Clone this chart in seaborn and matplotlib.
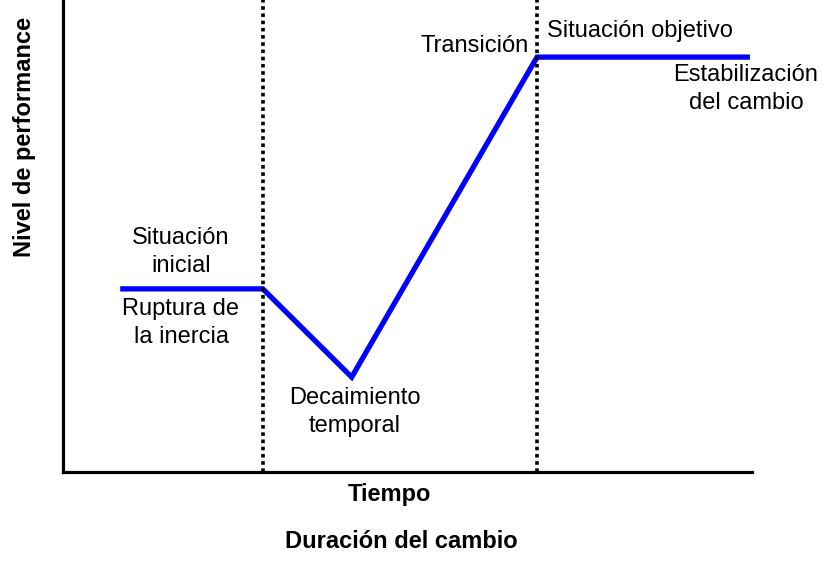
import numpy as np
import pandas as pd
import matplotlib.pyplot as plt
import seaborn as sns

# curve of performance over time (axes units 0-100)
tiempo = [8.3, 29.0, 41.9, 68.8, 99.7]
performance = [38.8, 38.8, 20.1, 87.9, 87.9]
# phase boundaries
limites = [29.0, 68.8]

sns.set_style("white")
plt.rcParams["font.family"] = ["Liberation Sans", "DejaVu Sans"]
plt.rcParams["text.color"] = "black"

W, H = 831, 562
fig = plt.figure(figsize=(W / 100, H / 100), dpi=100)
ax = fig.add_axes([63 / W, (H - 472) / H, (752 - 63) / W, 472 / H])

df = pd.DataFrame({"Tiempo": tiempo, "Nivel": performance})
sns.lineplot(data=df, x="Tiempo", y="Nivel", color="#0000FF", linewidth=3.8,
             sort=False, ax=ax, solid_capstyle="butt", solid_joinstyle="miter")

for xv in limites:
    ax.axvline(xv, color="black", linewidth=2.6, linestyle=(0, (1, 1)))

ax.set_xlim(0, 100)
ax.set_ylim(0, 100)
ax.set_xticks([])
ax.set_yticks([])
ax.set_xlabel("")
ax.set_ylabel("")
for s in ["top", "right"]:
    ax.spines[s].set_visible(False)
for s in ["left", "bottom"]:
    ax.spines[s].set_linewidth(2.3)
    ax.spines[s].set_color("black")


def ftext(x, y, s, **kw):
    fig.text(x / W, 1 - y / H, s, ha="center", va="center", **kw)


fs = 17
ls = 1.35
ftext(181, 252, "Situación\ninicial", fontsize=fs, linespacing=ls)
ftext(181, 323, "Ruptura de\nla inercia", fontsize=fs, linespacing=ls)
ftext(355, 412, "Decaimiento\ntemporal", fontsize=fs, linespacing=ls)
ftext(475, 46, "Transición", fontsize=fs)
ftext(640, 31, "Situación objetivo", fontsize=fs)
ftext(746, 89, "Estabilización\ndel cambio", fontsize=fs, linespacing=ls)

ftext(389, 494, "Tiempo", fontsize=17, fontweight="bold")
ftext(401, 542, "Duración del cambio", fontsize=17, fontweight="bold")
ftext(25, 137, "Nivel de performance", fontsize=17, fontweight="bold", rotation=90)

fig.savefig("out.png", dpi=100)
